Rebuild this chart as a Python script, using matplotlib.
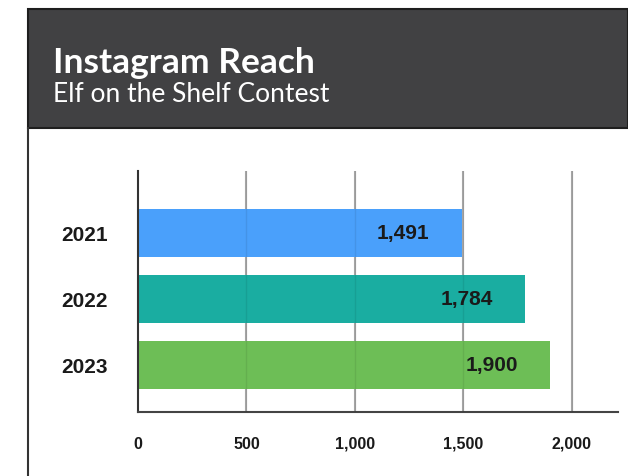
import matplotlib.pyplot as plt
from matplotlib.patches import Rectangle
from matplotlib.lines import Line2D

# datos del grafico
years = ["2021", "2022", "2023"]
reach = [1491, 1784, 1900]
bar_colors = ["#4aa0fb", "#1aada1", "#6dbe56"]
x_ticks = [0, 500, 1000, 1500, 2000]
x_tick_labels = ["0", "500", "1,000", "1,500", "2,000"]

W, H = 628, 477
fig = plt.figure(figsize=(W / 100, H / 100), dpi=100)
fig.patch.set_facecolor("white")

# cabecera oscura
fig.patches.append(Rectangle((28 / W, 1 - 129 / H), 1 - 28 / W, 119 / H,
                             transform=fig.transFigure, facecolor="#414143",
                             edgecolor="#1e1e1e", linewidth=1.5, zorder=0))
fig.lines.append(Line2D([28 / W, 28 / W], [0, 1 - 129 / H], transform=fig.transFigure,
                        color="#333333", linewidth=1.5))
fig.text(53 / W, 1 - 73 / H, "Instagram Reach", color="white", fontsize=25.5,
         fontfamily="Lato", fontweight="bold", va="baseline")
fig.text(53 / W, 1 - 102 / H, "Elf on the Shelf Contest", color="white", fontsize=19,
         fontfamily="Lato", va="baseline")

ax = fig.add_axes([138 / W, 1 - 413 / H, 480 / W, 241 / H])
pos = list(range(len(years)))
ax.barh(pos, reach, height=0.73, color=bar_colors, zorder=2)
for x in x_ticks[1:]:
    ax.axvline(x, color="#a8a8a8", linewidth=1.5, zorder=1)
    ax.axvline(x, color="#000000", linewidth=1.0, alpha=0.08, zorder=3)

for p, v in zip(pos, reach):
    ax.annotate(f"{v:,}", xy=(v, p), xytext=(-23, 0), textcoords="offset points",
                ha="right", va="center", fontsize=15, fontweight="bold",
                fontfamily="Liberation Sans", color="#1a1a1a", zorder=4)

ax.set_xlim(0, 2212)
ax.set_ylim(2.717, -0.935)
ax.set_yticks(pos)
ax.set_yticklabels(years, fontsize=15, fontweight="bold", fontfamily="Liberation Sans",
                   color="#1a1a1a")
ax.set_xticks(x_ticks)
ax.set_xticklabels(x_tick_labels, fontsize=11.5, fontweight="bold",
                   fontfamily="Liberation Sans", color="#1a1a1a")
ax.tick_params(axis="y", length=0, pad=22)
ax.tick_params(axis="x", length=0, pad=17)

for s in ["top", "right"]:
    ax.spines[s].set_visible(False)
ax.spines["left"].set_color("#333333")
ax.spines["left"].set_linewidth(1.5)
ax.spines["bottom"].set_color("#444444")
ax.spines["bottom"].set_linewidth(1.5)

fig.savefig("out.png", dpi=100)
